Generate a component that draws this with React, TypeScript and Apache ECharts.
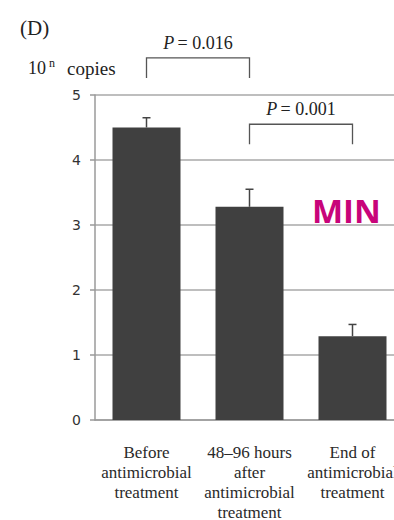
import React, { useEffect, useRef } from "react";
import * as echarts from "echarts";

const categories = [
  "Before\nantimicrobial\ntreatment",
  "48–96 hours\nafter\nantimicrobial\ntreatment",
  "End of\nantimicrobial\ntreatment",
];
const means = [4.5, 3.28, 1.29];
const upperErrors = [4.65, 3.55, 1.47];
const yTicks = [0, 1, 2, 3, 4, 5];
// bracket: [fromCategory, toCategory, level (top of bracket in axis units)]
const brackets = [
  [0, 1, 5.57],
  [1, 2, 4.55],
];
const bracketPValues = ["0.016", "0.001"];

export default function App() {
  const ref = useRef<HTMLDivElement>(null);
  useEffect(() => {
    document.body.style.margin = "0";
    const chart = echarts.init(ref.current!, undefined, { renderer: "svg" });
    const serif = '"Liberation Serif", "Times New Roman", serif';
    chart.setOption({
      animation: false,
      backgroundColor: "#ffffff",
      grid: { left: 95, right: -10, top: 95, bottom: 100, containLabel: false, outerBoundsMode: "none" },
      xAxis: {
        type: "category",
        data: categories,
        axisLine: { show: true, lineStyle: { color: "#9a9a9a", width: 1.5 } },
        axisTick: { show: false },
        axisLabel: {
          interval: 0,
          margin: 22,
          fontFamily: serif,
          fontSize: 17,
          lineHeight: 20,
          color: "#2a2a2a",
        },
      },
      yAxis: {
        type: "value",
        min: yTicks[0],
        max: yTicks[yTicks.length - 1],
        interval: 1,
        axisLine: { show: true, lineStyle: { color: "#9a9a9a", width: 1.5 } },
        axisTick: { show: true, length: 5, lineStyle: { color: "#9a9a9a", width: 1.5 } },
        splitLine: { show: true, lineStyle: { color: "#a8a8a8", width: 1.5 } },
        axisLabel: {
          margin: 14,
          fontFamily: '"DejaVu Sans", sans-serif',
          fontSize: 14,
          color: "#333",
        },
      },
      graphic: [
        {
          type: "text",
          left: 20,
          top: 17,
          style: { text: "(D)", fontFamily: serif, fontSize: 21, fill: "#222" },
        },
        {
          type: "text",
          left: 28,
          top: 59,
          style: { text: "10", fontFamily: serif, fontSize: 18, fill: "#222" },
        },
        {
          type: "text",
          left: 49,
          top: 57,
          style: { text: "n", fontFamily: serif, fontSize: 12, fill: "#222" },
        },
        {
          type: "text",
          left: 67,
          top: 59,
          style: { text: "copies", fontFamily: serif, fontSize: 19, fill: "#222" },
        },
        {
          type: "text",
          left: 312,
          top: 194,
          style: {
            text: "MIN",
            fontFamily: '"Open Sans", sans-serif',
            fontWeight: "bold",
            fontSize: 33,
            fill: "#c8047a",
          },
        },
      ],
      series: [
        {
          type: "bar",
          data: means,
          barWidth: 68,
          itemStyle: { color: "#404040" },
          z: 2,
        },
        {
          type: "custom",
          data: means.map((m, i) => [i, m, upperErrors[i]]),
          z: 3,
          renderItem: (params: any, api: any) => {
            const base = api.coord([api.value(0), api.value(1)]);
            const top = api.coord([api.value(0), api.value(2)]);
            const style = { stroke: "#444", lineWidth: 1.5 };
            return {
              type: "group",
              children: [
                { type: "line", shape: { x1: base[0], y1: base[1], x2: top[0], y2: top[1] }, style },
                { type: "line", shape: { x1: top[0] - 4, y1: top[1], x2: top[0] + 4, y2: top[1] }, style },
              ],
            };
          },
        },
        {
          type: "custom",
          data: brackets,
          clip: false,
          z: 4,
          renderItem: (params: any, api: any) => {
            const a = api.coord([api.value(0), api.value(2)]);
            const b = api.coord([api.value(1), api.value(2)]);
            const style = { stroke: "#555", lineWidth: 1.3, fill: null };
            const leg = 20;
            return {
              type: "group",
              children: [
                {
                  type: "polyline",
                  shape: {
                    points: [
                      [a[0], a[1] + leg],
                      [a[0], a[1]],
                      [b[0], b[1]],
                      [b[0], b[1] + leg],
                    ],
                  },
                  style,
                },
                {
                  type: "text",
                  x: (a[0] + b[0]) / 2,
                  y: a[1] - 15,
                  style: {
                    text: "{i|P} {n|= " + bracketPValues[params.dataIndex] + "}",
                    fill: "#222",
                    align: "center",
                    verticalAlign: "middle",
                    rich: {
                      i: { fontFamily: serif, fontSize: 18, fontStyle: "italic", fill: "#222" },
                      n: { fontFamily: serif, fontSize: 18, fill: "#222" },
                    },
                  },
                },
              ],
            };
          },
        },
      ],
    });
    return () => chart.dispose();
  }, []);
  return <div ref={ref} style={{ width: 394, height: 520 }} />;
}
